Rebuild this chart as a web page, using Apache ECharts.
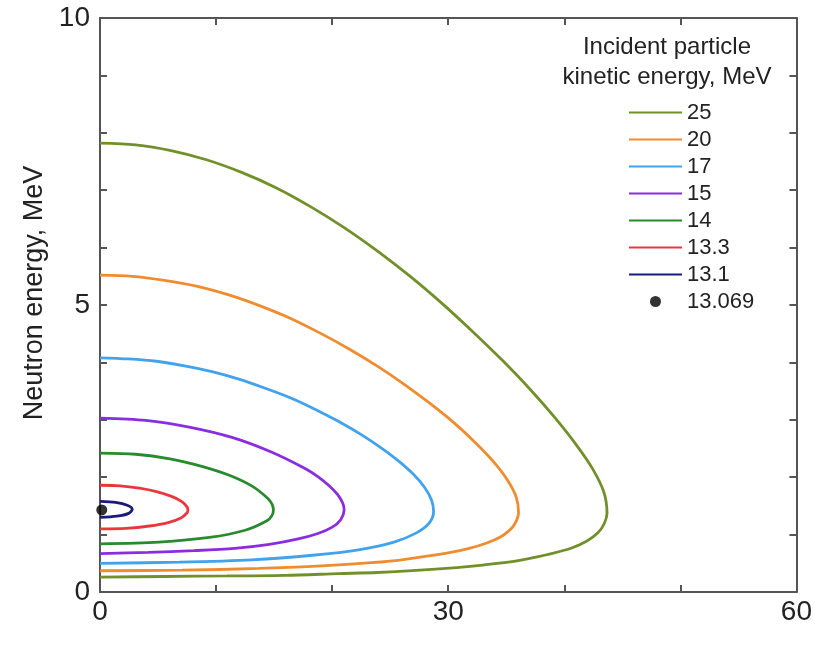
<!DOCTYPE html>
<html>
<head>
<meta charset="utf-8">
<script src="https://cdn.jsdelivr.net/npm/echarts@6/dist/echarts.min.js"></script>
<style>
html,body{margin:0;padding:0;background:#fff;}
#chart{width:815px;height:647px;}
</style>
</head>
<body>
<div id="chart"></div>
<script>
// Incident particle kinetic energies (MeV) - series names
const seriesNames = ['25', '20', '17', '15', '14', '13.3', '13.1'];
const pointName = '13.069';

// Curves: [angle (deg), neutron energy (MeV)]
const curve25 = [[0,7.82],[3.06,7.79],[6.12,7.69],[9.17,7.53],[12.2,7.31],[15.2,7.04],[18.17,6.71],[21.1,6.34],[23.97,5.93],[26.78,5.49],[29.51,5.02],[32.14,4.53],[34.64,4.04],[36.97,3.55],[39.1,3.06],[40.94,2.59],[42.43,2.15],[43.41,1.74],[43.68,1.37],[42.94,1.04],[40.69,0.77],[36.16,0.55],[32.97,0.47],[28.26,0.39],[23.89,0.34],[20.56,0.32],[15.97,0.29],[10.94,0.28],[5.55,0.27],[0,0.26]];
const curve20 = [[0,5.52],[2.78,5.5],[5.55,5.43],[8.3,5.33],[11.03,5.18],[13.73,4.99],[16.38,4.77],[18.97,4.51],[21.5,4.23],[23.93,3.93],[26.27,3.61],[28.46,3.28],[30.48,2.95],[32.3,2.61],[33.86,2.28],[35.07,1.96],[35.85,1.66],[36.06,1.38],[35.5,1.12],[33.92,0.9],[30.99,0.72],[26.29,0.57],[23.38,0.51],[19.45,0.46],[13.67,0.41],[7.07,0.38],[0,0.37]];
const curve17 = [[0,4.08],[2.43,4.06],[4.86,4.02],[7.26,3.94],[9.64,3.84],[11.96,3.71],[14.24,3.55],[16.44,3.38],[18.56,3.18],[20.57,2.97],[22.44,2.75],[24.16,2.52],[25.68,2.29],[26.96,2.06],[27.94,1.83],[28.57,1.6],[28.74,1.4],[28.35,1.2],[27.26,1.03],[25.33,0.87],[22.4,0.74],[18.32,0.64],[13.09,0.56],[6.84,0.52],[0,0.5]];
const curve15 = [[0,3.03],[3.95,2.99],[7.79,2.87],[11.44,2.69],[14.76,2.44],[17.59,2.16],[18.77,2.01],[19.74,1.85],[20.46,1.7],[20.91,1.55],[21.03,1.43],[20.74,1.26],[20.01,1.13],[18.78,1.02],[16.98,0.92],[14.59,0.83],[11.61,0.76],[8.09,0.72],[4.16,0.69],[0,0.67]];
const curve14 = [[0,2.42],[3.06,2.4],[6.02,2.32],[8.77,2.19],[11.19,2.03],[13.14,1.84],[14.46,1.63],[14.82,1.53],[14.94,1.43],[14.81,1.33],[14.38,1.24],[12.57,1.08],[9.43,0.95],[5.08,0.87],[0,0.84]];
const curve133 = [[0,1.86],[1.74,1.85],[3.39,1.81],[4.87,1.75],[6.11,1.67],[7.02,1.58],[7.51,1.48],[7.57,1.43],[7.51,1.38],[6.97,1.29],[5.87,1.21],[4.26,1.15],[2.24,1.11],[0,1.1]];
const curve131 = [[0,1.58],[1.34,1.56],[2.35,1.51],[2.78,1.44],[2.47,1.37],[1.45,1.32],[0,1.3]];
const point13069 = [[0.15,1.43]];

const xTickLabels = [0, 30, 60];
const yTickLabels = [0, 5, 10];

const curves = [curve25, curve20, curve17, curve15, curve14, curve133, curve131];
const colors = ['#72902a', '#f08c30', '#42a2ec', '#8a2de0', '#2a8a2e', '#e8383e', '#1a1a78'];

const FONT = "'Liberation Sans', Arial, sans-serif";
const axisColor = '#555';

function mkX(pos, showLabel) {
  return {
    type: 'value', min: 0, max: 60, interval: 10, position: pos,
    axisLine: { show: true, onZero: false, lineStyle: { color: axisColor, width: 2 } },
    axisTick: { show: true, inside: true, length: 7, lineStyle: { color: axisColor, width: 2 } },
    axisLabel: { show: showLabel, margin: 6, fontSize: 28, color: '#222', fontFamily: FONT,
      formatter: v => xTickLabels.includes(v) ? String(v) : '' },
    splitLine: { show: false }
  };
}
function mkY(pos, showLabel) {
  return {
    type: 'value', min: 0, max: 10, interval: 1, position: pos,
    axisLine: { show: true, onZero: false, lineStyle: { color: axisColor, width: 2 } },
    axisTick: { show: true, inside: true, length: 7, lineStyle: { color: axisColor, width: 2 } },
    axisLabel: { show: showLabel, margin: 10, fontSize: 28, color: '#222', fontFamily: FONT,
      formatter: v => yTickLabels.includes(v) ? String(v) : '' },
    splitLine: { show: false }
  };
}

const series = curves.map((c, i) => ({
  name: seriesNames[i], type: 'line', data: c, smooth: 0.3,
  symbol: 'none', showSymbol: false,
  lineStyle: { color: colors[i], width: 2.8 },
  itemStyle: { color: colors[i] },
  xAxisIndex: 0, yAxisIndex: 0, animation: false, z: 3
}));
series.push({
  name: pointName, type: 'scatter', data: point13069, symbol: 'circle', symbolSize: 11,
  itemStyle: { color: '#000' }, xAxisIndex: 0, yAxisIndex: 0, animation: false, z: 5
});

const yName = 'Neutron energy, MeV';
const legendTitle = 'Incident particle\nkinetic energy, MeV';

const legendData = seriesNames.map(n => ({ name: n, itemStyle: { color: 'rgba(0,0,0,0)', borderWidth: 0 } }));
legendData.push({ name: pointName });

const chart = echarts.init(document.getElementById('chart'), null, { renderer: 'canvas' });
chart.setOption({
  animation: false,
  backgroundColor: '#fff',
  grid: { left: 100, right: 17, top: 18, bottom: 55, containLabel: false },
  xAxis: [mkX('bottom', true), mkX('top', false)],
  yAxis: [
    Object.assign(mkY('left', true), { name: yName, nameLocation: 'middle', nameGap: 48,
      nameTextStyle: { fontSize: 27, color: '#222', fontFamily: FONT, padding: [0, 0, 0, 24] } }),
    mkY('right', false)
  ],
  legend: {
    orient: 'vertical', left: 628, top: 99, padding: 0,
    itemWidth: 53, itemHeight: 11, itemGap: 0,
    textStyle: { fontSize: 22, color: '#222', fontFamily: FONT, lineHeight: 27 },
    data: legendData,
    selectedMode: false
  },
  graphic: [{
    type: 'text', x: 667, y: 32,
    style: { text: legendTitle, textAlign: 'center', textVerticalAlign: 'top',
      font: '24px ' + FONT, lineHeight: 30, fill: '#222' }
  }],
  series: series
});
</script>
</body>
</html>
